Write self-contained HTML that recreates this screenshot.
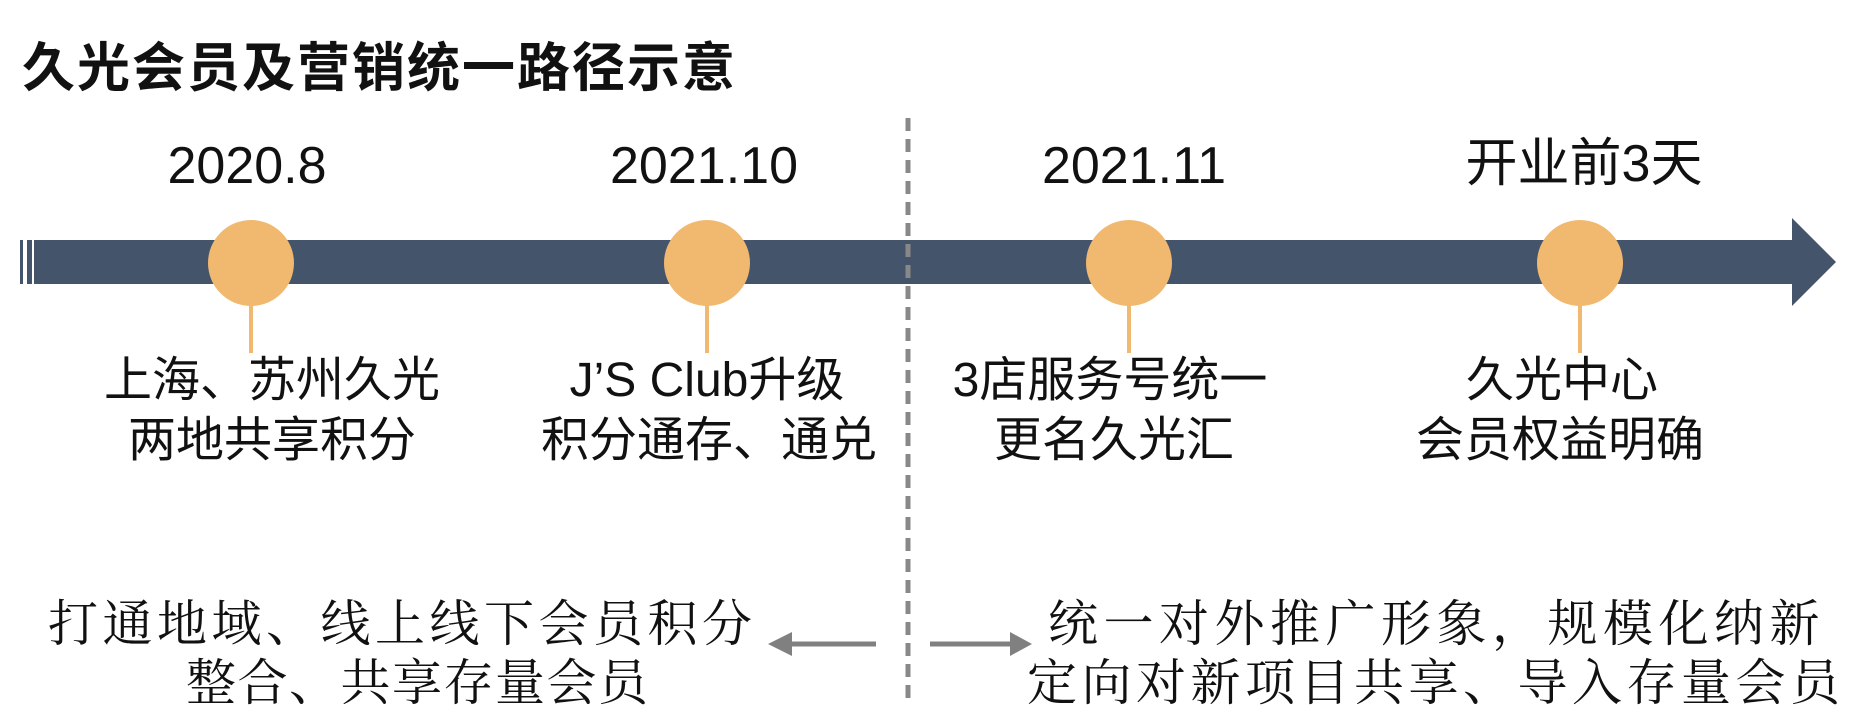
<!DOCTYPE html>
<html><head><meta charset="utf-8"><style>
body{margin:0;width:1874px;height:726px;background:#fff;overflow:hidden;position:relative;font-family:"Liberation Sans","Noto Sans CJK SC",sans-serif;color:#111}
.t{position:absolute;white-space:nowrap;line-height:1}
.c{transform:translateX(-50%)}
.s{font-family:"Liberation Serif","Noto Serif CJK SC",serif;font-size:50px}
</style></head><body>
<div class="t" style="left:22px;top:42px;font-size:53px;font-weight:bold;letter-spacing:2px">久光会员及营销统一路径示意</div>

<div class="t c" style="left:247px;top:140px;font-size:52px">2020.8</div>
<div class="t c" style="left:704px;top:140px;font-size:52px">2021.10</div>
<div class="t c" style="left:1134px;top:140px;font-size:52px">2021.11</div>
<div class="t c" style="left:1584px;top:138px;font-size:52px">开业前3天</div>

<svg width="1874" height="726" style="position:absolute;left:0;top:0">
<rect x="20" y="240" width="3" height="44" fill="#44546a"/>
<rect x="27" y="240" width="5" height="44" fill="#44546a"/>
<rect x="34" y="240" width="1760" height="44" fill="#44546a"/>
<polygon points="1792,218 1836,262 1792,306" fill="#44546a"/>
<g stroke="#f0b96f" stroke-width="4">
<line x1="251" y1="300" x2="251" y2="353"/><line x1="707" y1="300" x2="707" y2="353"/>
<line x1="1129" y1="300" x2="1129" y2="353"/><line x1="1580" y1="300" x2="1580" y2="353"/></g>
<g fill="#f0b96f"><circle cx="251" cy="263" r="43"/><circle cx="707" cy="263" r="43"/><circle cx="1129" cy="263" r="43"/><circle cx="1580" cy="263" r="43"/></g>
<line x1="908" y1="118" x2="908" y2="700" stroke="#888" stroke-width="5" stroke-dasharray="13,8"/>
<g stroke="#808080" stroke-width="5"><line x1="876" y1="644" x2="785" y2="644"/><line x1="930" y1="644" x2="1015" y2="644"/></g>
<polygon points="768,644 792,632 792,656" fill="#808080"/>
<polygon points="1032,644 1010,632 1010,656" fill="#808080"/>
</svg>

<div class="t c" style="left:272px;top:357px;font-size:48px">上海、苏州久光</div>
<div class="t c" style="left:272px;top:417px;font-size:48px">两地共享积分</div>
<div class="t c" style="left:707px;top:357px;font-size:48px">J’S Club升级</div>
<div class="t c" style="left:709px;top:417px;font-size:48px">积分通存、通兑</div>
<div class="t c" style="left:1110px;top:357px;font-size:48px">3店服务号统一</div>
<div class="t c" style="left:1114px;top:417px;font-size:48px">更名久光汇</div>
<div class="t c" style="left:1562px;top:357px;font-size:48px">久光中心</div>
<div class="t c" style="left:1560px;top:417px;font-size:48px">会员权益明确</div>

<div class="t s" style="left:48px;top:599px;letter-spacing:4.5px">打通地域、线上线下会员积分</div>
<div class="t s" style="left:186px;top:658px;letter-spacing:1.5px">整合、共享存量会员</div>
<div class="t s" style="left:1048px;top:599px;letter-spacing:5.5px">统一对外推广形象，规模化纳新</div>
<div class="t s" style="left:1027px;top:658px;letter-spacing:4.5px">定向对新项目共享、导入存量会员</div>
</body></html>
